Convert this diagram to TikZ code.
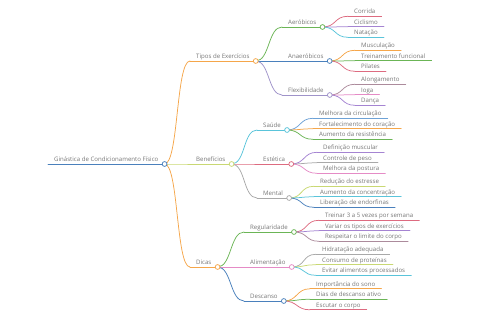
\documentclass[tikz,border=0pt]{standalone}
\usepackage{fontspec}
\setmainfont{Open Sans}
\usetikzlibrary{calc}

\definecolor{mmtext}{HTML}{767676}
\definecolor{mmblue}{HTML}{4A80BC}
\definecolor{mmsky}{HTML}{6EA2D6}
\definecolor{mmorange}{HTML}{F5A64A}
\definecolor{mmlime}{HTML}{C9D873}
\definecolor{mmgreen}{HTML}{6BB556}
\definecolor{mmlav}{HTML}{9F93C9}
\definecolor{mmred}{HTML}{DD6B80}
\definecolor{mmviolet}{HTML}{A584D2}
\definecolor{mmcyan}{HTML}{5AC4DA}
\definecolor{mmpink}{HTML}{E58BC6}
\definecolor{mmgray}{HTML}{A9A9A9}
\definecolor{mmmauve}{HTML}{AC8B9C}

\tikzset{
  mm/.style={anchor=south west, inner xsep=6pt, inner ysep=2.4pt, text depth=0pt,
    font=\fontsize{6.1}{7}\selectfont, text=mmtext},
  mmline/.style={line width=0.75pt, line cap=round},
  mmring/.style={line width=0.75pt, draw=#1, fill=white},
}

% name, colour, x, y, text
\newcommand\mmnode[5]{%
  \node[mm] (#1) at (#3,#4) {#5};
  \draw[mmline, #2] (#1.south west) -- (#1.south east);
}
% colour, parent, child
\newcommand\mmlink[3]{%
  \draw[mmline, #1] (#2.south east) .. controls +(14,0) and +(-14,0) .. (#3.south west);
}
\newcommand\mmdot[2]{\draw[mmring=#1] (#2.south east) circle (2.4pt);}

\begin{document}
\begin{tikzpicture}[x=1pt, y=-1pt]
  \useasboundingbox (0,0) rectangle (480,320);

  % root and first level
  \mmnode{root}{mmblue}{48}{164}{Ginástica de Condicionamento Físico}
  \mmnode{tipos}{mmorange}{190}{61}{Tipos de Exercícios}
  \mmnode{benef}{mmlime}{190}{164}{Benefícios}
  \mmnode{dicas}{mmorange}{190}{267}{Dicas}

  % Tipos de Exercicios
  \mmnode{aerob}{mmgreen}{282}{27}{Aeróbicos}
  \mmnode{anaer}{mmblue}{282}{61}{Anaeróbicos}
  \mmnode{flex}{mmlav}{282}{95}{Flexibilidade}
  \mmnode{corrida}{mmred}{348}{16.3}{Corrida}
  \mmnode{ciclismo}{mmviolet}{348}{26.8}{Ciclismo}
  \mmnode{natacao}{mmcyan}{348}{37.3}{Natação}
  \mmnode{muscul}{mmorange}{355}{50.3}{Musculação}
  \mmnode{treino}{mmgreen}{355}{60.8}{Treinamento funcional}
  \mmnode{pilates}{mmred}{355}{71.3}{Pilates}
  \mmnode{along}{mmmauve}{355}{84.3}{Alongamento}
  \mmnode{ioga}{mmpink}{355}{94.8}{Ioga}
  \mmnode{danca}{mmviolet}{355}{105.3}{Dança}

  % Beneficios
  \mmnode{saude}{mmcyan}{257}{130}{Saúde}
  \mmnode{estet}{mmred}{257}{164}{Estética}
  \mmnode{mental}{mmgray}{257}{198}{Mental}
  \mmnode{circ}{mmsky}{313}{118.3}{Melhora da circulação}
  \mmnode{coracao}{mmorange}{313}{128.8}{Fortalecimento do coração}
  \mmnode{resist}{mmgreen}{313}{139.3}{Aumento da resistência}
  \mmnode{defin}{mmviolet}{317}{152.3}{Definição muscular}
  \mmnode{peso}{mmgray}{317}{162.8}{Controle de peso}
  \mmnode{postura}{mmpink}{317}{173.3}{Melhora da postura}
  \mmnode{estresse}{mmlime}{314}{186.3}{Redução do estresse}
  \mmnode{concent}{mmcyan}{314}{196.8}{Aumento da concentração}
  \mmnode{endorf}{mmblue}{314}{207.3}{Liberação de endorfinas}

  % Dicas
  \mmnode{regul}{mmgreen}{244}{232}{Regularidade}
  \mmnode{alim}{mmpink}{244}{267}{Alimentação}
  \mmnode{desc}{mmblue}{244}{301}{Descanso}
  \mmnode{treinar}{mmred}{319}{220.3}{Treinar 3 a 5 vezes por semana}
  \mmnode{variar}{mmviolet}{319}{230.8}{Variar os tipos de exercícios}
  \mmnode{respeitar}{mmmauve}{319}{241.3}{Respeitar o limite do corpo}
  \mmnode{hidrat}{mmgray}{316}{254.3}{Hidratação adequada}
  \mmnode{proteinas}{mmlime}{316}{264.8}{Consumo de proteínas}
  \mmnode{evitar}{mmcyan}{316}{275.3}{Evitar alimentos processados}
  \mmnode{sono}{mmorange}{310}{288.8}{Importância do sono}
  \mmnode{ativo}{mmgreen}{310}{299.3}{Dias de descanso ativo}
  \mmnode{escutar}{mmred}{310}{309.8}{Escutar o corpo}

  % connectors
  \mmlink{mmorange}{root}{tipos}
  \mmlink{mmlime}{root}{benef}
  \mmlink{mmorange}{root}{dicas}
  \mmlink{mmgreen}{tipos}{aerob}
  \mmlink{mmblue}{tipos}{anaer}
  \mmlink{mmlav}{tipos}{flex}
  \mmlink{mmcyan}{benef}{saude}
  \mmlink{mmred}{benef}{estet}
  \mmlink{mmgray}{benef}{mental}
  \mmlink{mmgreen}{dicas}{regul}
  \mmlink{mmpink}{dicas}{alim}
  \mmlink{mmblue}{dicas}{desc}
  \foreach \p/\a/\ca/\b/\cb/\c/\cc in {
      aerob/corrida/mmred/ciclismo/mmviolet/natacao/mmcyan,
      anaer/muscul/mmorange/treino/mmgreen/pilates/mmred,
      flex/along/mmmauve/ioga/mmpink/danca/mmviolet,
      saude/circ/mmsky/coracao/mmorange/resist/mmgreen,
      estet/defin/mmviolet/peso/mmgray/postura/mmpink,
      mental/estresse/mmlime/concent/mmcyan/endorf/mmblue,
      regul/treinar/mmred/variar/mmviolet/respeitar/mmmauve,
      alim/hidrat/mmgray/proteinas/mmlime/evitar/mmcyan,
      desc/sono/mmorange/ativo/mmgreen/escutar/mmred} {
    \mmlink{\ca}{\p}{\a}
    \mmlink{\cb}{\p}{\b}
    \mmlink{\cc}{\p}{\c}
  }

  % rings at branch ends
  \mmdot{mmblue}{root}
  \mmdot{mmorange}{tipos}
  \mmdot{mmlime}{benef}
  \mmdot{mmorange}{dicas}
  \mmdot{mmgreen}{aerob}
  \mmdot{mmblue}{anaer}
  \mmdot{mmlav}{flex}
  \mmdot{mmcyan}{saude}
  \mmdot{mmred}{estet}
  \mmdot{mmgray}{mental}
  \mmdot{mmgreen}{regul}
  \mmdot{mmpink}{alim}
  \mmdot{mmblue}{desc}
\end{tikzpicture}
\end{document}
